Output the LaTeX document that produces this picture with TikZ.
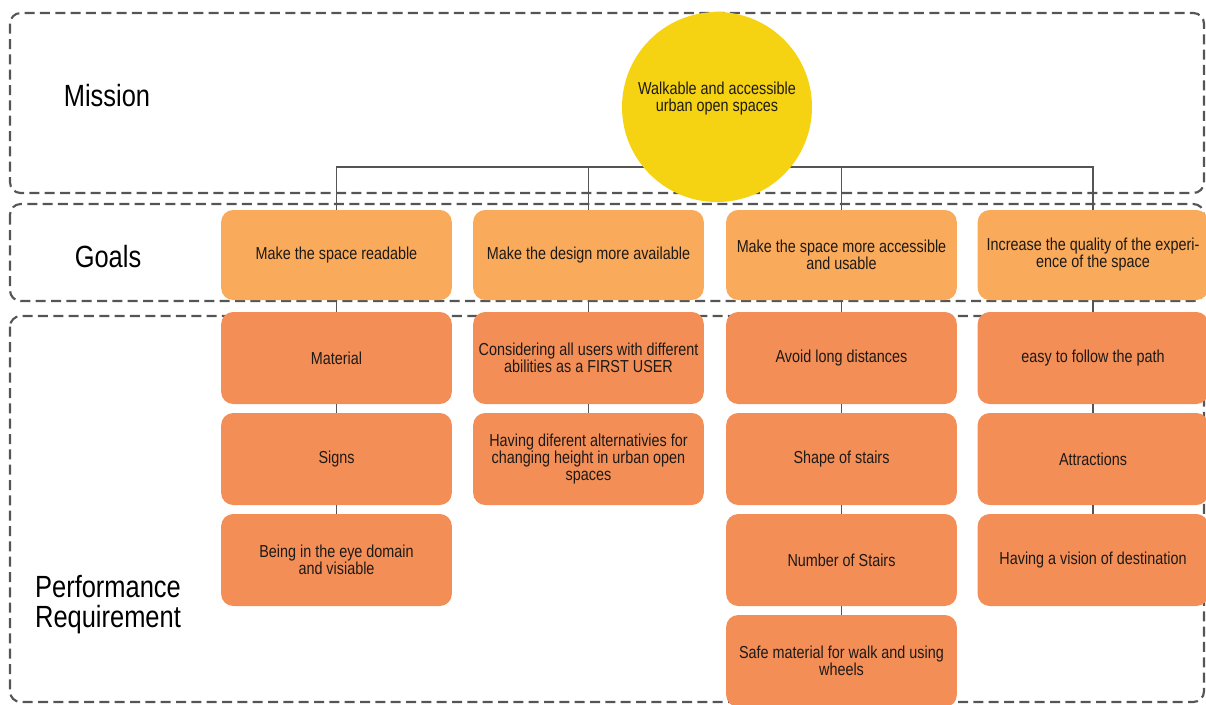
\documentclass[tikz,border=0pt]{standalone}
\usepackage{fontspec}
\setmainfont{Liberation Sans}[FakeStretch=0.83]
\usetikzlibrary{backgrounds}

\definecolor{missionyellow}{HTML}{F5D312}
\definecolor{goalorange}{HTML}{F9AA5A}
\definecolor{reqorange}{HTML}{F38E56}
\definecolor{linegray}{HTML}{555555}
\definecolor{textdark}{HTML}{1E1A18}

\tikzset{
  frame/.style={draw=linegray, line width=1.6pt, dash pattern=on 7.5pt off 4pt, rounded corners=8pt},
  goalbox/.style={fill=goalorange, rounded corners=9pt, minimum width=173pt, minimum height=67.5pt,
    align=center, text=textdark, font=\fontsize{13}{12.75}\selectfont},
  reqbox/.style={goalbox, fill=reqorange, minimum height=69pt},
  link/.style={draw=linegray, line width=1.2pt},
  rowlabel/.style={align=center, font=\fontsize{23}{22.5}\selectfont}
}

\begin{document}
\begin{tikzpicture}[x=0.75pt, y=-0.75pt]
    \useasboundingbox (0,0) rectangle (1206,704);
    % row labels
    \node[rowlabel] (missionlabel) at (107,96) {Mission};
    \node[rowlabel] (goalslabel) at (108,257) {Goals};
    \node[rowlabel] (perflabel) at (108,605) {Performance\\Requirement};
    % mission
    \node[circle, fill=missionyellow, minimum size=142.5pt] (mission) at (717,107) {};
    \node[text=textdark, align=center, font=\fontsize{13}{12.75}\selectfont] (missiontext) at (717,99)
        {Walkable and accessible\\urban open spaces};
    % goals
    \node[goalbox] (g1) at (336.5,255) {Make the space readable};
    \node[goalbox] (g2) at (588.5,255) {Make the design more available};
    \node[goalbox] (g3) at (841.5,255) {Make the space more accessible\\and usable};
    \node[goalbox] (g4) at (1093,255) {Increase the quality of the experi-\\ence of the space};
    % performance requirements
    \node[reqbox] (r11) at (336.5,358) {Material};
    \node[reqbox] (r12) at (336.5,459) {Signs};
    \node[reqbox] (r13) at (336.5,560) {Being in the eye domain\\and visiable};
    \node[reqbox] (r21) at (588.5,358) {Considering all users with different\\abilities as a FIRST USER};
    \node[reqbox] (r22) at (588.5,459) {Having diferent alternativies for\\changing height in urban open\\spaces};
    \node[reqbox] (r31) at (841.5,358) {Avoid long distances};
    \node[reqbox] (r32) at (841.5,459) {Shape of stairs};
    \node[reqbox] (r33) at (841.5,560) {Number of Stairs};
    \node[reqbox] (r34) at (841.5,661) {Safe material for walk and using\\wheels};
    \node[reqbox] (r41) at (1093,358) {easy to follow the path};
    \node[reqbox] (r42) at (1093,459) {Attractions};
    \node[reqbox] (r43) at (1093,560) {Having a vision of destination};
    % links in each column
    \draw[link] (g1) -- (r11) -- (r12) -- (r13);
    \draw[link] (g2) -- (r21) -- (r22);
    \draw[link] (g3) -- (r31) -- (r32) -- (r33) -- (r34);
    \draw[link] (g4) -- (r41) -- (r42) -- (r43);
    \begin{scope}[on background layer]
      % dashed frames
      \draw[frame] (10,13) rectangle (1204,193);
      \draw[frame] (10,204) rectangle (1204,301);
      \draw[frame] (10,316) rectangle (1204,702);
      % mission to goals
      \coordinate (bus) at (717,167);
      \foreach \g in {g1,g2,g3,g4}
        \draw[link] (bus) -| (\g.north);
    \end{scope}
\end{tikzpicture}
\end{document}
